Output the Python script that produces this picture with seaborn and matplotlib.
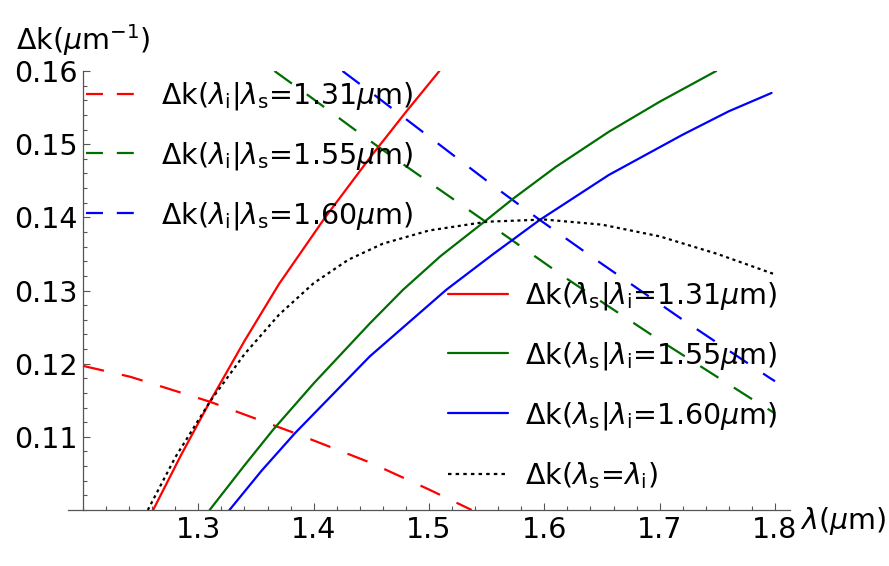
import matplotlib
matplotlib.use('Agg')
import matplotlib.pyplot as plt
from matplotlib.lines import Line2D
from matplotlib.ticker import FixedLocator, MultipleLocator, FormatStrFormatter
import seaborn as sns

# Δk(λs | λi = const) -- solid curves
lam_s_131 = [1.2608, 1.285, 1.31, 1.34, 1.37, 1.41, 1.45, 1.48, 1.509]
dk_s_131 = [0.1000, 0.1075, 0.1148, 0.1231, 0.1309, 0.1400, 0.1484, 0.1544, 0.1600]

lam_s_155 = [1.3098, 1.34, 1.365, 1.40, 1.4487, 1.4775, 1.51, 1.548, 1.5725, 1.61, 1.656, 1.70, 1.749]
dk_s_155 = [0.1000, 0.1061, 0.1110, 0.1173, 0.1255, 0.1301, 0.1347, 0.1394, 0.1425, 0.1469, 0.1517, 0.1558, 0.1600]

lam_s_160 = [1.327, 1.355, 1.3838, 1.4487, 1.515, 1.555, 1.5956, 1.656, 1.72, 1.76, 1.797]
dk_s_160 = [0.1000, 0.1054, 0.1105, 0.1210, 0.1301, 0.1349, 0.1396, 0.1458, 0.1513, 0.1545, 0.1570]

# Δk(λi | λs = const) -- dashed curves
lam_i_131 = [1.20, 1.2412, 1.31, 1.3838, 1.4487, 1.50, 1.537]
dk_i_131 = [0.1197, 0.1182, 0.1148, 0.1105, 0.1065, 0.1028, 0.1000]

lam_i_155 = [1.366, 1.3968, 1.4415, 1.4573, 1.5627, 1.6215, 1.70, 1.7786, 1.80]
dk_i_155 = [0.1600, 0.1565, 0.1513, 0.1495, 0.1379, 0.1314, 0.1232, 0.1153, 0.1132]

lam_i_160 = [1.425, 1.4545, 1.5584, 1.5956, 1.6475, 1.72, 1.794, 1.80]
dk_i_160 = [0.1600, 0.1565, 0.1440, 0.1397, 0.1339, 0.1260, 0.1182, 0.1176]

# Δk(λs = λi) -- dotted
lam_eq = [1.2562, 1.28, 1.31, 1.34, 1.37, 1.40, 1.43, 1.46, 1.50, 1.55, 1.60, 1.65, 1.70, 1.75, 1.80]
dk_eq = [0.1000, 0.1072, 0.1148, 0.1213, 0.1267, 0.1310, 0.1342, 0.1364, 0.1382, 0.1394, 0.1397, 0.1390, 0.1374, 0.1350, 0.1322]

x_ticks = [1.3, 1.4, 1.5, 1.6, 1.7, 1.8]
y_ticks = [0.11, 0.12, 0.13, 0.14, 0.15, 0.16]

RED, GREEN, BLUE = '#FF0000', '#006E00', '#0000FF'
FS = 20.5
LW = 1.6
DASH = (0, (15.5, 13.2))
DOT = (0, (2.2, 2.6))

sns.set_style('white')
plt.rcParams['font.family'] = ['DejaVu Sans']
plt.rcParams['mathtext.fontset'] = 'dejavusans'
plt.rcParams['lines.scale_dashes'] = False
plt.rcParams['text.color'] = 'black'

fig = plt.figure(figsize=(8.89, 5.66), dpi=100)
ax = fig.add_axes([68 / 889, 56 / 566, 722 / 889, 439 / 566])

curves = [
    (lam_i_131, dk_i_131, RED, DASH),
    (lam_i_155, dk_i_155, GREEN, DASH),
    (lam_i_160, dk_i_160, BLUE, DASH),
    (lam_s_131, dk_s_131, RED, '-'),
    (lam_s_155, dk_s_155, GREEN, '-'),
    (lam_s_160, dk_s_160, BLUE, '-'),
    (lam_eq, dk_eq, 'black', DOT),
]
for lam, dk, col, ls in curves:
    sns.lineplot(x=lam, y=dk, color=col, linestyle=ls, linewidth=LW, ax=ax)

ax.set_xlim(1.187, 1.813)
ax.set_ylim(0.1, 0.16)
for s in ['top', 'right']:
    ax.spines[s].set_visible(False)
ax.spines['left'].set_position(('data', 1.2))
for s in ['left', 'bottom']:
    ax.spines[s].set_color('#555555')
    ax.spines[s].set_linewidth(0.9)

ax.xaxis.set_major_locator(FixedLocator(x_ticks))
ax.xaxis.set_minor_locator(MultipleLocator(0.02))
ax.yaxis.set_major_locator(FixedLocator(y_ticks))
ax.yaxis.set_minor_locator(MultipleLocator(0.002))
ax.xaxis.set_major_formatter(FormatStrFormatter('%.1f'))
ax.yaxis.set_major_formatter(FormatStrFormatter('%.2f'))
ax.tick_params(which='both', direction='in', color='#555555', width=0.8,
               labelsize=FS, labelcolor='black', pad=4, bottom=True, left=True)
ax.tick_params(which='major', length=5)
ax.tick_params(which='minor', length=3)

fig.text(16 / 889, 1 - 50 / 566, r'Δk($\mu\mathrm{m}^{-1}$)', fontsize=FS,
         ha='left', va='baseline')
fig.text(800 / 889, 1 - 521 / 566, r'$\lambda$($\mu$m)', fontsize=FS,
         ha='left', va='center')

# legends
LEG_DASH = (0, (12.2, 10))
h1 = [Line2D([], [], color=c, lw=LW, linestyle=LEG_DASH) for c in (RED, GREEN, BLUE)]
l1 = [r'Δk($\lambda_\mathrm{i}|\lambda_\mathrm{s}$=%s$\mu$m)' % v for v in ('1.31', '1.55', '1.60')]
fig.legend(h1, l1, loc='upper left', bbox_to_anchor=(86 / 889, 1 - 80 / 566),
           frameon=False, borderpad=0, borderaxespad=0, fontsize=FS,
           handlelength=1.72, handletextpad=0.93, labelspacing=0.98)

h2 = [Line2D([], [], color=c, lw=LW) for c in (RED, GREEN, BLUE)]
h2.append(Line2D([], [], color='black', lw=LW, linestyle=(0, (2.5, 3.0))))
l2 = [r'Δk($\lambda_\mathrm{s}|\lambda_\mathrm{i}$=%s$\mu$m)' % v for v in ('1.31', '1.55', '1.60')]
l2.append(r'Δk($\lambda_\mathrm{s}$=$\lambda_\mathrm{i}$)')
fig.legend(h2, l2, loc='upper left', bbox_to_anchor=(448 / 889, 1 - 280 / 566),
           frameon=False, borderpad=0, borderaxespad=0, fontsize=FS,
           handlelength=2.1, handletextpad=0.6, labelspacing=0.98)

fig.savefig('out.png', dpi=100)
